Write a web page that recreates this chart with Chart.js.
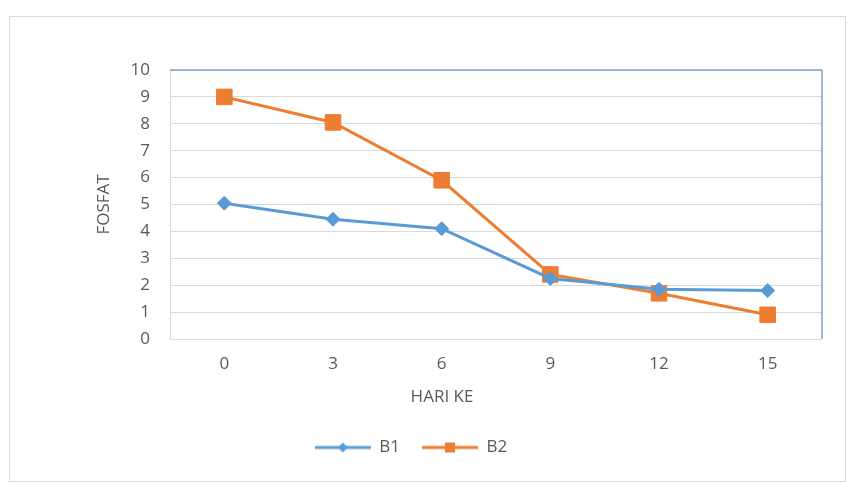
<!DOCTYPE html>
<html>
<head>
<meta charset="utf-8">
<script src="https://cdn.jsdelivr.net/npm/chart.js@4.4.0/dist/chart.umd.min.js"></script>
<style>
  html, body { margin: 0; padding: 0; background: #fff; }
  #wrap { width: 848px; height: 483px; }
</style>
</head>
<body>
<div id="wrap"><canvas id="fosfat-chart"></canvas></div>
<script>
// data
const hariKe = ["0", "3", "6", "9", "12", "15"];
const fosfatB1 = [5.05, 4.45, 4.1, 2.25, 1.85, 1.8];
const fosfatB2 = [9.0, 8.05, 5.9, 2.4, 1.7, 0.9];
const seriesNames = ["B1", "B2"];

const blue = "#5b9bd5";
const orange = "#ed7d31";
const textGray = "#595959";
const fontFamily = "'Open Sans', sans-serif";

// small line + marker swatch for the legend
function legendSwatch(color, shape) {
  const c = document.createElement("canvas");
  c.width = 56;
  c.height = 20;
  const ctx = c.getContext("2d");
  ctx.strokeStyle = color;
  ctx.fillStyle = color;
  ctx.lineWidth = 3;
  ctx.beginPath();
  ctx.moveTo(0, 10);
  ctx.lineTo(56, 10);
  ctx.stroke();
  ctx.beginPath();
  if (shape === "diamond") {
    ctx.moveTo(28, 5);
    ctx.lineTo(33, 10);
    ctx.lineTo(28, 15);
    ctx.lineTo(23, 10);
  } else {
    ctx.rect(23, 5, 10, 10);
  }
  ctx.closePath();
  ctx.fill();
  return c;
}
const swatches = [legendSwatch(blue, "diamond"), legendSwatch(orange, "square")];

// outer frame, plot border and the x axis caption
const chartFrame = {
  id: "chartFrame",
  beforeDraw(chart) {
    const ctx = chart.ctx;
    ctx.save();
    ctx.fillStyle = "#fff";
    ctx.fillRect(0, 0, chart.width, chart.height);
    ctx.strokeStyle = "#d9d9d9";
    ctx.lineWidth = 1;
    ctx.strokeRect(9.5, 16.5, 836, 465);
    ctx.restore();
  },
  beforeDatasetsDraw(chart) {
    const { ctx, chartArea: a } = chart;
    ctx.save();
    ctx.lineWidth = 1;
    ctx.strokeStyle = "#d9d9d9";
    ctx.beginPath();
    ctx.moveTo(a.left + 0.5, a.top);
    ctx.lineTo(a.left + 0.5, a.bottom);
    ctx.stroke();
    ctx.strokeStyle = "#7ea3c9";
    ctx.lineWidth = 1.5;
    ctx.beginPath();
    ctx.moveTo(a.left, a.top);
    ctx.lineTo(a.right, a.top);
    ctx.lineTo(a.right, a.bottom);
    ctx.stroke();
    ctx.restore();
  },
  afterDraw(chart) {
    const ctx = chart.ctx;
    ctx.save();
    ctx.fillStyle = textGray;
    ctx.font = "17px " + fontFamily;
    ctx.textAlign = "center";
    ctx.textBaseline = "middle";
    ctx.fillText("HARI KE", 442, 397);
    ctx.restore();
  }
};

Chart.defaults.font.family = fontFamily;
Chart.defaults.font.size = 17;
Chart.defaults.color = textGray;

new Chart(document.getElementById("fosfat-chart"), {
  type: "line",
  data: {
    labels: hariKe,
    datasets: [
      {
        label: seriesNames[0],
        data: fosfatB1,
        borderColor: blue,
        backgroundColor: blue,
        borderWidth: 3,
        pointStyle: "rectRot",
        pointRadius: 7,
        pointBorderWidth: 1,
        tension: 0,
      },
      {
        label: seriesNames[1],
        data: fosfatB2,
        borderColor: orange,
        backgroundColor: orange,
        borderWidth: 3,
        pointStyle: "rect",
        pointRadius: 11,
        pointBorderWidth: 1,
        tension: 0,
      },
    ],
  },
  options: {
    responsive: true,
    maintainAspectRatio: false,
    animation: false,
    layout: {
      padding: { left: 0, top: 70, right: 26, bottom: 17 },
    },
    scales: {
      x: {
        offset: true,
        grid: { display: false },
        border: { display: false },
        ticks: { padding: 7 },
        afterFit(scale) {
          scale.height = 78;
        },
      },
      y: {
        min: 0,
        max: 10,
        ticks: { stepSize: 1, padding: 20 },
        grid: { color: "#d9d9d9", drawTicks: false },
        border: { display: false },
        title: {
          display: true,
          text: "FOSFAT",
          padding: { top: 94, bottom: 0 },
        },
        afterFit(scale) {
          scale.width = 170;
        },
      },
    },
    plugins: {
      tooltip: { enabled: false },
      legend: {
        position: "bottom",
        labels: {
          usePointStyle: true,
          pointStyleWidth: 56,
          padding: 22,
          generateLabels(chart) {
            return seriesNames.map((name, i) => ({
              text: name,
              pointStyle: swatches[i],
              fontColor: textGray,
              hidden: false,
              datasetIndex: i,
              lineWidth: 0,
            }));
          },
        },
      },
    },
  },
  plugins: [chartFrame],
});
</script>
</body>
</html>
